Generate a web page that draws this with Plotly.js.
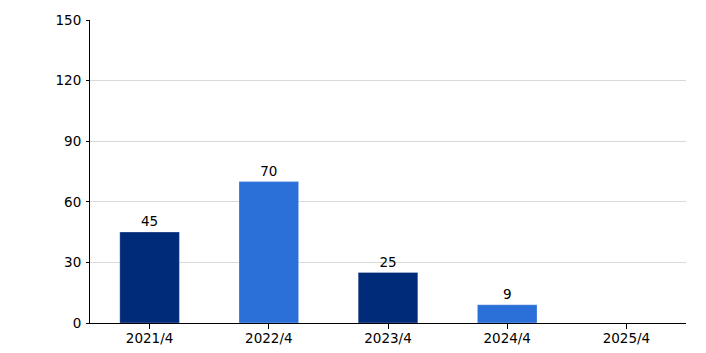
<!DOCTYPE html>
<html>
<head>
<meta charset="utf-8">
<script src="https://cdn.plot.ly/plotly-3.0.1.min.js"></script>
<style>html,body{margin:0;padding:0;background:#fff;}#chart{width:706px;height:353px;}</style>
</head>
<body>
<div id="chart"></div>
<script>
const categories = ["2021/4", "2022/4", "2023/4", "2024/4", "2025/4"];
const values = [45, 70, 25, 9, null];
const barColors = ["#002b78", "#2b6fd8", "#002b78", "#2b6fd8", "#002b78"];
const yTicks = [0, 30, 60, 90, 120, 150];

const FONT = "'DejaVu Sans', Verdana, sans-serif";

const trace = {
  type: "bar",
  x: categories,
  y: values,
  width: 0.5,
  marker: {color: barColors, line: {color: "rgba(255,255,255,0.25)", width: 1}},
  text: values.map(v => v === null ? "" : String(v)),
  textposition: "outside",
  textfont: {color: "#000", size: 13.5, family: FONT},
  cliponaxis: false,
  hoverinfo: "none"
};

const layout = {
  width: 706, height: 353,
  margin: {l: 90, r: 20, t: 20, b: 30},
  paper_bgcolor: "#fff", plot_bgcolor: "#fff",
  font: {family: FONT, size: 13.5, color: "#000"},
  showlegend: false,
  bargap: 0.5,
  xaxis: {
    type: "category",
    showline: true, linecolor: "#000", linewidth: 1,
    ticks: "outside", ticklen: 5, tickcolor: "#000",
    showgrid: false, zeroline: false,
    tickfont: {size: 13.5, family: FONT},
    ticklabelstandoff: -2
  },
  yaxis: {
    range: [0, 150],
    tickvals: yTicks,
    showline: true, linecolor: "#000", linewidth: 1,
    ticks: "outside", ticklen: 3, tickcolor: "#000",
    showgrid: true, gridcolor: "#d9d9d9", gridwidth: 1,
    zeroline: false,
    tickfont: {size: 13.5, family: FONT},
    ticklabelstandoff: 2
  }
};

Plotly.newPlot("chart", [trace], layout, {staticPlot: true, displayModeBar: false});
</script>
</body>
</html>
